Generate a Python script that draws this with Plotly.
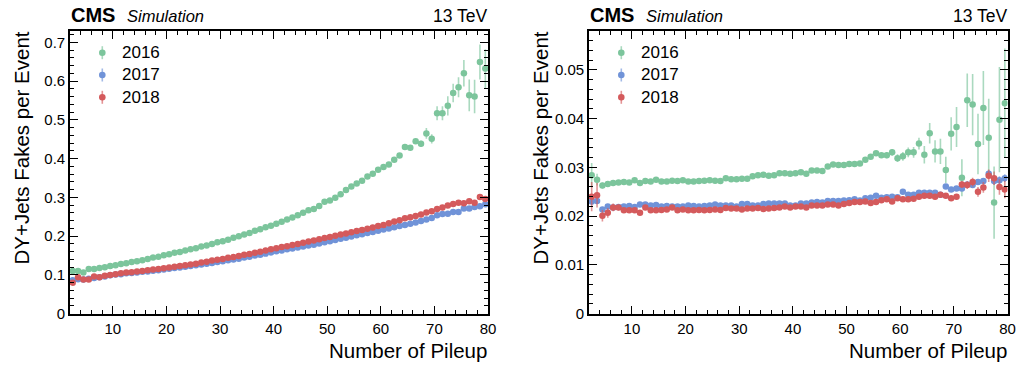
import plotly.graph_objects as go

W, H = 1018, 365

pileup = [2.5 + i for i in range(78)]
years = ["2016", "2017", "2018"]

# ---- left panel ----
left_2016 = [0.110, 0.110, 0.106, 0.115, 0.115, 0.118, 0.120, 0.123, 0.125, 0.128,
             0.130, 0.133, 0.135, 0.138, 0.141, 0.145, 0.147, 0.151, 0.153, 0.157,
             0.159, 0.163, 0.166, 0.169, 0.173, 0.176, 0.180, 0.184, 0.187, 0.191,
             0.196, 0.200, 0.204, 0.208, 0.214, 0.218, 0.223, 0.227, 0.232, 0.237,
             0.243, 0.248, 0.254, 0.260, 0.267, 0.270, 0.278, 0.289, 0.292, 0.299,
             0.308, 0.319, 0.328, 0.336, 0.343, 0.354, 0.361, 0.371, 0.378, 0.385,
             0.397, 0.408, 0.430, 0.428, 0.445, 0.438, 0.465, 0.451, 0.517, 0.517,
             0.536, 0.569, 0.584, 0.620, 0.563, 0.560, 0.649, 0.632]
left_2016_err = [0.003, 0.002, 0.002, 0.002, 0.002, 0.002, 0.002, 0.002, 0.002, 0.002,
                 0.002, 0.002, 0.002, 0.002, 0.002, 0.002, 0.002, 0.002, 0.002, 0.002,
                 0.002, 0.002, 0.002, 0.002, 0.002, 0.002, 0.002, 0.002, 0.002, 0.002,
                 0.002, 0.002, 0.002, 0.002, 0.002, 0.002, 0.002, 0.002, 0.002, 0.002,
                 0.002, 0.002, 0.002, 0.002, 0.002, 0.002, 0.003, 0.003, 0.003, 0.003,
                 0.003, 0.003, 0.003, 0.003, 0.003, 0.003, 0.004, 0.004, 0.004, 0.004,
                 0.005, 0.005, 0.005, 0.006, 0.006, 0.008, 0.014, 0.012, 0.018, 0.018,
                 0.025, 0.024, 0.026, 0.034, 0.041, 0.043, 0.045, 0.050]
left_2017 = [0.086, 0.089, 0.088, 0.090, 0.092, 0.094, 0.096, 0.099, 0.101, 0.102,
             0.104, 0.105, 0.106, 0.108, 0.109, 0.111, 0.112, 0.114, 0.116, 0.118,
             0.119, 0.121, 0.123, 0.125, 0.127, 0.129, 0.131, 0.133, 0.135, 0.138,
             0.140, 0.142, 0.145, 0.147, 0.150, 0.152, 0.155, 0.158, 0.161, 0.163,
             0.166, 0.168, 0.171, 0.173, 0.176, 0.178, 0.181, 0.184, 0.187, 0.190,
             0.193, 0.196, 0.199, 0.202, 0.205, 0.208, 0.211, 0.214, 0.217, 0.220,
             0.223, 0.226, 0.229, 0.232, 0.235, 0.239, 0.243, 0.247, 0.254, 0.257,
             0.258, 0.262, 0.262, 0.271, 0.271, 0.275, 0.277, 0.282]
left_2017_err = [0.004, 0.002] + [0.001] * 66 + [0.002] * 10
left_2018 = [0.080, 0.094, 0.088, 0.088, 0.096, 0.094, 0.098, 0.100, 0.102, 0.104,
             0.106, 0.107, 0.109, 0.110, 0.112, 0.114, 0.115, 0.117, 0.119, 0.121,
             0.123, 0.125, 0.127, 0.129, 0.132, 0.134, 0.137, 0.139, 0.141, 0.144,
             0.146, 0.149, 0.152, 0.154, 0.157, 0.160, 0.163, 0.166, 0.169, 0.172,
             0.174, 0.177, 0.180, 0.183, 0.186, 0.189, 0.192, 0.195, 0.198, 0.201,
             0.204, 0.207, 0.210, 0.213, 0.216, 0.219, 0.222, 0.226, 0.229, 0.233,
             0.238, 0.241, 0.246, 0.249, 0.252, 0.256, 0.261, 0.264, 0.270, 0.274,
             0.279, 0.283, 0.286, 0.285, 0.290, 0.286, 0.301, 0.296]
left_2018_err = [0.006, 0.003, 0.002] + [0.001] * 63 + [0.002] * 6 + [0.003] * 6

# ---- right panel ----
right_2016 = [0.0284, 0.0275, 0.0263, 0.0266, 0.0268, 0.0269, 0.0270, 0.0269, 0.0274, 0.0268,
              0.0272, 0.0271, 0.0275, 0.0271, 0.0271, 0.0273, 0.0272, 0.0274, 0.0271, 0.0271,
              0.0272, 0.0273, 0.0274, 0.0273, 0.0272, 0.0278, 0.0276, 0.0276, 0.0277, 0.0277,
              0.0282, 0.0284, 0.0285, 0.0283, 0.0284, 0.0288, 0.0288, 0.0287, 0.0288, 0.0290,
              0.0287, 0.0294, 0.0294, 0.0293, 0.0302, 0.0306, 0.0305, 0.0305, 0.0307, 0.0307,
              0.0308, 0.0316, 0.0322, 0.0329, 0.0325, 0.0325, 0.0331, 0.0319, 0.0323, 0.0331,
              0.0331, 0.0349, 0.0326, 0.0370, 0.0333, 0.0333, 0.0295, 0.0369, 0.0383, 0.0279,
              0.0438, 0.0429, 0.0348, 0.0422, 0.0361, 0.0228, 0.0398, 0.0432]
right_2016_err = [0.0025, 0.0012, 0.0006, 0.0004, 0.0004, 0.0004, 0.0004, 0.0004, 0.0004, 0.0003,
                  0.0003, 0.0003, 0.0003, 0.0003, 0.0003, 0.0003, 0.0003, 0.0003, 0.0003, 0.0003,
                  0.0003, 0.0003, 0.0003, 0.0003, 0.0003, 0.0003, 0.0003, 0.0003, 0.0003, 0.0003,
                  0.0003, 0.0003, 0.0003, 0.0003, 0.0003, 0.0003, 0.0003, 0.0003, 0.0003, 0.0004,
                  0.0004, 0.0004, 0.0004, 0.0004, 0.0004, 0.0004, 0.0004, 0.0004, 0.0004, 0.0004,
                  0.0004, 0.0005, 0.0005, 0.0005, 0.0005, 0.0006, 0.0007, 0.0008, 0.0009, 0.0010,
                  0.0011, 0.0012, 0.0018, 0.0021, 0.0023, 0.0026, 0.0027, 0.0034, 0.0041, 0.0038,
                  0.0055, 0.0063, 0.0062, 0.0076, 0.0080, 0.0074, 0.0108, 0.0112]
right_2017 = [0.0230, 0.0231, 0.0214, 0.0220, 0.0218, 0.0219, 0.0220, 0.0221, 0.0219, 0.0224,
              0.0224, 0.0222, 0.0223, 0.0220, 0.0221, 0.0220, 0.0220, 0.0220, 0.0222, 0.0221,
              0.0220, 0.0221, 0.0222, 0.0224, 0.0222, 0.0222, 0.0222, 0.0220, 0.0225, 0.0225,
              0.0222, 0.0222, 0.0225, 0.0226, 0.0226, 0.0226, 0.0226, 0.0222, 0.0222, 0.0226,
              0.0226, 0.0228, 0.0229, 0.0228, 0.0231, 0.0231, 0.0231, 0.0232, 0.0233, 0.0235,
              0.0232, 0.0237, 0.0238, 0.0242, 0.0238, 0.0239, 0.0240, 0.0239, 0.0250, 0.0244,
              0.0244, 0.0248, 0.0248, 0.0248, 0.0248, 0.0244, 0.0261, 0.0255, 0.0257, 0.0257,
              0.0265, 0.0264, 0.0270, 0.0272, 0.0287, 0.0272, 0.0274, 0.0278]
right_2017_err = [0.0008, 0.0006, 0.0004] + [0.0002] * 55 + [0.0003] * 10 + \
                 [0.0004, 0.0004, 0.0005, 0.0005, 0.0006, 0.0006, 0.0007, 0.0007, 0.0008, 0.0008]
right_2018 = [0.0240, 0.0243, 0.0201, 0.0207, 0.0218, 0.0218, 0.0212, 0.0212, 0.0212, 0.0207,
              0.0218, 0.0212, 0.0212, 0.0213, 0.0214, 0.0218, 0.0212, 0.0214, 0.0212, 0.0212,
              0.0213, 0.0212, 0.0213, 0.0214, 0.0213, 0.0217, 0.0216, 0.0216, 0.0214, 0.0216,
              0.0216, 0.0217, 0.0215, 0.0216, 0.0217, 0.0218, 0.0220, 0.0218, 0.0220, 0.0220,
              0.0218, 0.0222, 0.0222, 0.0222, 0.0224, 0.0224, 0.0222, 0.0225, 0.0227, 0.0229,
              0.0229, 0.0230, 0.0227, 0.0229, 0.0233, 0.0235, 0.0230, 0.0237, 0.0235, 0.0235,
              0.0236, 0.0240, 0.0242, 0.0242, 0.0240, 0.0244, 0.0242, 0.0237, 0.0240, 0.0265,
              0.0264, 0.0270, 0.0250, 0.0259, 0.0283, 0.0278, 0.0260, 0.0255]
right_2018_err = [0.0030, 0.0025, 0.0012, 0.0010, 0.0008, 0.0006] + [0.0004] * 50 + \
                 [0.0005] * 13 + [0.0007, 0.0008, 0.0009, 0.0010, 0.0011, 0.0013, 0.0014, 0.0016, 0.0018]

x_ticks = [10, 20, 30, 40, 50, 60, 70, 80]

marker_colors = ["#7cc59c", "#7093d8", "#d45a5c"]
err_colors = ["rgba(124,197,156,0.65)", "rgba(112,147,216,0.65)", "rgba(212,90,92,0.65)"]

FONT = "Liberation Sans, Arial, Helvetica, sans-serif"

fig = go.Figure()

left_series = [(left_2016, left_2016_err), (left_2017, left_2017_err), (left_2018, left_2018_err)]
right_series = [(right_2016, right_2016_err), (right_2017, right_2017_err), (right_2018, right_2018_err)]

for axes, series in [(("x", "y"), left_series), (("x2", "y2"), right_series)]:
    for i, (vals, errs) in enumerate(series):
        fig.add_trace(go.Scatter(
            x=pileup, y=vals, mode="markers", name=years[i], showlegend=False,
            marker=dict(color=marker_colors[i], size=6.5, line=dict(width=0)),
            error_y=dict(type="data", array=errs, visible=True, color=err_colors[i], thickness=1.6, width=0),
            xaxis=axes[0], yaxis=axes[1]))

TOP, BOT = 31.0, 313.7
L1, R1 = 70.0, 488.0
L2, R2 = 589.0, 1007.5


def xp(px):
    return px / W


def yp(py):
    return 1 - py / H


axis_common = dict(
    showline=True, linecolor="black", linewidth=1.6, mirror="ticks",
    ticks="inside", ticklen=8, tickwidth=1.3, tickcolor="black",
    showgrid=False, zeroline=False, automargin=False,
    tickfont=dict(family=FONT, size=15, color="black"),
)

xcommon = dict(axis_common, range=[2, 80], tickmode="array", tickvals=x_ticks,
               minor=dict(ticks="inside", ticklen=4, tickwidth=1.1, tickcolor="black", dtick=2, tick0=0, showgrid=False))

fig.update_layout(
    width=W, height=H,
    margin=dict(l=0, r=0, t=0, b=0, pad=0, autoexpand=False),
    paper_bgcolor="white", plot_bgcolor="white",
    font=dict(family=FONT, color="black"),
    showlegend=False,
    xaxis=dict(xcommon, domain=[xp(L1), xp(R1)], anchor="y"),
    xaxis2=dict(xcommon, domain=[xp(L2), xp(R2)], anchor="y2"),
    yaxis=dict(axis_common, domain=[yp(BOT), yp(TOP)], anchor="x", range=[0, 0.729], dtick=0.1, tick0=0,
               minor=dict(ticks="inside", ticklen=4, tickwidth=1.1, tickcolor="black", dtick=0.02, tick0=0, showgrid=False)),
    yaxis2=dict(axis_common, domain=[yp(BOT), yp(TOP)], anchor="x2", range=[0, 0.058], dtick=0.01, tick0=0,
                minor=dict(ticks="inside", ticklen=4, tickwidth=1.1, tickcolor="black", dtick=0.002, tick0=0, showgrid=False)),
)

annots = []
shapes = []
for (l, r) in [(L1, R1), (L2, R2)]:
    annots.append(dict(text="<b>CMS</b>", x=xp(l - 1), y=yp(15), xref="paper", yref="paper",
                       xanchor="left", yanchor="middle", showarrow=False,
                       font=dict(family=FONT, size=20, color="black")))
    annots.append(dict(text="<i>Simulation</i>", x=xp(l + 55), y=yp(16), xref="paper", yref="paper",
                       xanchor="left", yanchor="middle", showarrow=False,
                       font=dict(family=FONT, size=16.5, color="black")))
    annots.append(dict(text="13 TeV", x=xp(r + 1), y=yp(16.5), xref="paper", yref="paper",
                       xanchor="right", yanchor="middle", showarrow=False,
                       font=dict(family=FONT, size=17.5, color="black")))
    annots.append(dict(text="Number of Pileup", x=xp(r + 1), y=yp(350.5), xref="paper", yref="paper",
                       xanchor="right", yanchor="middle", showarrow=False,
                       font=dict(family=FONT, size=20.5, color="black")))
    annots.append(dict(text="DY+Jets Fakes per Event", x=xp(l - 49), y=yp(30), xref="paper", yref="paper",
                       xanchor="center", yanchor="top", textangle=-90, showarrow=False,
                       font=dict(family=FONT, size=20.5, color="black")))
    # legend (marker with vertical error bar, as in the reference)
    mx = l + 32.3
    for i, yr in enumerate(years):
        cy = 52.7 + 22.3 * i
        shapes.append(dict(type="line", xref="paper", yref="paper",
                           x0=xp(mx), x1=xp(mx), y0=yp(cy - 6.5), y1=yp(cy + 6.5),
                           line=dict(color=err_colors[i], width=1.6)))
        shapes.append(dict(type="circle", xref="paper", yref="paper",
                           x0=xp(mx - 3.3), x1=xp(mx + 3.3), y0=yp(cy + 3.3), y1=yp(cy - 3.3),
                           fillcolor=marker_colors[i], line=dict(width=0)))
        annots.append(dict(text=yr, x=xp(l + 50), y=yp(cy), xref="paper", yref="paper",
                           xanchor="left", yanchor="middle", showarrow=False,
                           font=dict(family=FONT, size=17, color="black")))

fig.update_layout(annotations=annots, shapes=shapes)

fig.write_html("out.html", config={"displayModeBar": False},
               post_script="document.body.style.margin='0px';document.body.style.padding='0px';")
